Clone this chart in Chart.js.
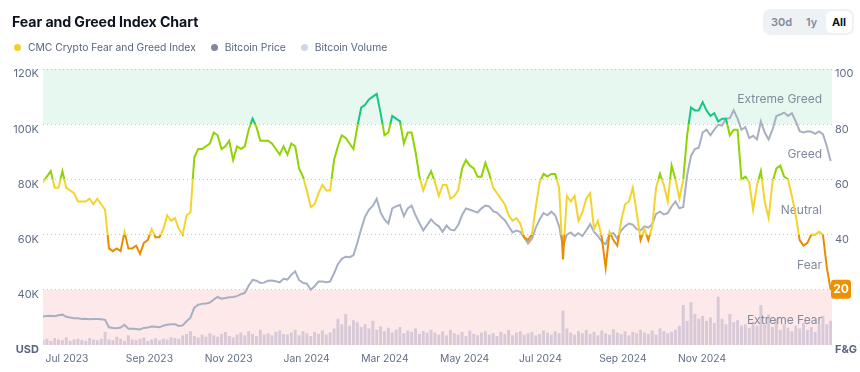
<!DOCTYPE html>
<html><head><meta charset="utf-8">
<script src="https://cdn.jsdelivr.net/npm/chart.js@4.4.1/dist/chart.umd.min.js"></script>
<style>
html,body{margin:0;padding:0;background:#fff;}
body{width:860px;height:372px;position:relative;overflow:hidden;font-family:Inter,"Noto Sans",sans-serif;}
#c{position:absolute;left:0;top:0;}
.title{position:absolute;left:12px;top:12px;font-size:14.2px;font-weight:700;color:#0d1421;line-height:20px;letter-spacing:-0.1px;z-index:2;}
.legend{position:absolute;left:14px;top:40px;font-size:10.3px;color:#58667e;display:flex;align-items:center;line-height:14px;z-index:2;}
.legend .item{display:flex;align-items:center;margin-right:15px;}
.legend .dot{width:7px;height:7px;border-radius:50%;display:inline-block;margin-right:7px;}
.range{position:absolute;left:763px;top:9px;width:91px;height:26px;background:#eff2f5;border-radius:7px;z-index:2;}
.range span{position:absolute;top:0;line-height:26px;font-size:11px;font-weight:600;color:#808a9d;}
.range .on{background:#fff;color:#0d1421;font-weight:700;border-radius:6px;top:2px;height:22px;line-height:22px;width:26px;text-align:center;}
</style></head>
<body>
<canvas id="c" width="860" height="372"></canvas>
<div class="title">Fear and Greed Index Chart</div>
<div class="legend">
  <div class="item"><span class="dot" style="background:#f3cf2a"></span>CMC Crypto Fear and Greed Index</div>
  <div class="item"><span class="dot" style="background:#808a9d"></span>Bitcoin Price</div>
  <div class="item"><span class="dot" style="background:#cfd6e4"></span>Bitcoin Volume</div>
</div>
<div class="range"><span style="left:8px">30d</span><span style="left:43px">1y</span><span class="on" style="left:63px">All</span></div>
<script>
// Data: one sample every 3 days, starting 2023-06-29 (day 0)
const startDate = '2023-06-29';
const stepDays = 3;
const fngIndex = [
59,61,63,57,57,63,57,56,55,52,
52,52,53,51,53,51,49,35,34,35,
34,41,35,35,36,33,37,38,42,39,
39,42,47,45,46,42,40,47,48,68,
71,71,72,73,77,76,71,72,74,67,
72,71,72,78,82,79,74,74,74,73,
71,69,72,69,73,72,64,61,56,50,
51,55,58,56,56,67,72,76,75,73,
71,79,86,87,89,90,91,84,76,77,
83,82,81,73,77,77,70,61,56,60,
63,59,54,58,58,53,54,56,64,67,
65,64,61,61,66,62,57,55,53,51,
47,45,46,44,39,38,40,50,59,62,
61,62,62,57,31,54,52,54,45,48,
53,55,42,45,39,28,41,38,36,45,
51,52,57,48,38,42,38,43,57,62,
58,52,65,60,53,60,76,86,85,85,
88,85,83,84,81,82,82,76,78,78,
60,61,59,49,58,63,52,46,59,64,
65,61,60,54,47,38,36,37,40,40,
41,40,28,20];
const btcPrice = [
30300,30500,30600,30400,30800,31000,30200,30000,29700,29700,
29400,29500,29300,29400,29400,29300,29100,26400,26200,26100,
26300,27300,25900,25900,25800,25600,26200,26300,26700,26600,
26400,27000,27300,27500,27500,26900,27100,28600,29900,33500,
34600,34900,35000,35400,36500,37400,36800,37000,37300,37400,
37700,38400,38900,41500,43600,43300,42500,42600,43300,43400,
43100,42700,44000,43700,45500,46700,43500,42500,42200,40000,
41300,43000,43000,42700,43000,46000,49300,51200,52000,51800,
52500,57000,62000,66500,69000,70500,73000,68000,65500,64000,
69500,70200,70800,66700,69500,70500,67000,64200,61500,63500,
65500,64000,63000,61000,63300,61800,61500,63500,67000,69500,
69000,68500,68000,69500,70500,70200,68500,68000,66500,65200,
63000,60800,61500,61000,59000,56800,58500,62500,65500,67800,
67000,68300,67000,63000,55800,60000,60800,59500,60500,59500,
61500,63800,61000,59500,57500,56500,60200,60500,58500,61500,
63000,64000,63600,62000,61500,63000,62500,63800,67500,68300,
67300,67800,70200,72000,69500,70000,81500,88500,91000,91500,
97000,98000,96000,98000,99800,99500,102000,102200,105000,102000,
98000,99000,95000,95800,94500,101000,97000,94500,98000,103000,
103500,104200,103000,104000,101000,97500,97000,97400,97300,96500,
97400,96400,92000,86700];
// Bitcoin volume, billions USD
const btcVolume = [
7,9,6,10,8,7,11,6,8,9,7,6,10,8,7,9,
19,8,7,12,9,6,14,8,7,9,11,6,8,10,7,9,8,11,
10,9,14,16,20,13,11,15,12,17,14,12,16,19,13,11,15,
18,14,20,16,13,22,15,17,14,19,21,16,15,18,22,14,20,17,13,19,16,21,15,18,
24,38,30,45,28,36,33,26,30,24,35,22,27,20,25,18,22,26,17,21,19,24,16,20,18,22,
18,15,20,14,22,17,15,19,13,21,16,14,18,20,15,17,13,19,16,22,14,18,20,15,17,19,14,16,21,18,15,20,17,
50,
24,18,15,20,17,22,16,19,14,21,17,15,23,18,16,20,14,19,17,22,18,16,21,15,24,20,17,19,22,
28,58,35,62,45,38,42,
35,40,32,70,38,30,45,33,36,28,
30,25,34,28,58,30,44,26,38,22,30,25,20,28,24,32,22,26,19,30,42,30,35];
// Axis labels (days since startDate)
const tickDays = [2,64,125,186,246,307,368,430,491];
const tickLabels = ['Jul 2023','Sep 2023','Nov 2023','Jan 2024','Mar 2024','May 2024','Jul 2024','Sep 2024','Nov 2024'];
const zoneNames = ['Extreme Fear','Fear','Neutral','Greed','Extreme Greed'];
const zoneBounds = [0,20,40,60,80,100];
const zoneColors = ['#ea3943','#ea8c00','#f3d42f','#8fd400','#16c784'];

const FONT = 'Inter, "Noto Sans", sans-serif';
const xy = arr => arr.map((v,i)=>({x:i*stepDays, y:v}));

function fngGradient(c){
  const chart = c.chart, a = chart.chartArea;
  if(!a) return zoneColors[2];
  const s = chart.scales.y2;
  const top = s.getPixelForValue(100), bot = s.getPixelForValue(0);
  const g = chart.ctx.createLinearGradient(0, top, 0, bot);
  for(let k=4;k>=0;k--){
    const lo = zoneBounds[k], hi = zoneBounds[k+1];
    g.addColorStop((100-hi)/100, zoneColors[k]);
    g.addColorStop((100-lo)/100, zoneColors[k]);
  }
  return g;
}

const zonePlugin = {
  id:'zones',
  beforeDraw(chart){
    const {ctx, chartArea:a, scales:{y2}} = chart;
    ctx.save();
    const p100=y2.getPixelForValue(100), p80=y2.getPixelForValue(80), p20=y2.getPixelForValue(20), p0=y2.getPixelForValue(0);
    ctx.fillStyle='#e7f8f1'; ctx.fillRect(a.left,p100,a.right-a.left,p80-p100);
    ctx.fillStyle='#fde9e9'; ctx.fillRect(a.left,p20,a.right-a.left,p0-p20);
    ctx.restore();
  },
  beforeDatasetsDraw(chart){
    const {ctx, chartArea:a, scales:{y2}} = chart;
    ctx.save();
    ctx.font = '12px '+FONT; ctx.fillStyle='#808a9d'; ctx.textAlign='right'; ctx.textBaseline='middle';
    for(let k=0;k<5;k++){
      const mid=(zoneBounds[k]+zoneBounds[k+1])/2;
      ctx.fillText(zoneNames[k], a.right-10, y2.getPixelForValue(mid)+3);
    }
    ctx.restore();
  },
  afterDraw(chart){
    const {ctx, chartArea:a, scales:{y2}} = chart;
    const last = fngIndex[fngIndex.length-1];
    const y = y2.getPixelForValue(last);
    const x0=a.right-1, w=20, h=19, y0=y-h/2-0.5;
    ctx.save();
    ctx.fillStyle = '#ee9000';
    ctx.beginPath(); ctx.roundRect(x0,y0,w,h,3); ctx.fill();
    ctx.fillStyle='#fff'; ctx.font='bold 12px '+FONT; ctx.textAlign='center'; ctx.textBaseline='middle';
    ctx.fillText(String(last), x0+w/2, y0+h/2+0.5);
    ctx.restore();
  }
};

const tickFont = c => (c.tick && (c.tick.value===0 || c.tick.value===20000)) ? {family:FONT,size:11,weight:'bold'} : {family:FONT,size:11};
const tickColor = c => (c.tick && (c.tick.value===0 || c.tick.value===20000)) ? '#58667e' : '#616e85';

new Chart(document.getElementById('c'), {
  data:{
    datasets:[
      {type:'line', label:'CMC Crypto Fear and Greed Index', data:xy(fngIndex), yAxisID:'y2', borderColor:fngGradient, borderWidth:2, pointRadius:0, tension:0, order:0},
      {type:'line', label:'Bitcoin Price', data:xy(btcPrice), yAxisID:'y', borderColor:'#a7b0c2', borderWidth:2, pointRadius:0, tension:0, order:1},
      {type:'bar', label:'Bitcoin Volume', data:xy(btcVolume), yAxisID:'yv', backgroundColor:'rgba(150,145,185,0.36)', barPercentage:0.75, categoryPercentage:1, order:2}
    ]
  },
  options:{
    responsive:false, devicePixelRatio:1, animation:false,
    layout:{padding:{top:69,left:0,right:0,bottom:0}},
    plugins:{legend:{display:false}, tooltip:{enabled:false}},
    scales:{
      x:{type:'linear', min:0, max:610, offset:false,
         afterBuildTicks: ax => { ax.ticks = tickDays.map(v=>({value:v})); },
         afterFit: ax => { ax.height = 27; },
         grid:{display:false, drawTicks:false}, border:{display:false},
         ticks:{autoSkip:false, maxRotation:0, align:'start', padding:8, font:{family:FONT,size:10.3}, color:'#616e85',
                callback: v => { const k = tickDays.indexOf(v); return k>=0 ? tickLabels[k] : ''; }}},
      y:{position:'left', min:20000, max:120000,
         afterFit: ax => { ax.width = 43; },
         grid:{display:false, drawTicks:false}, border:{display:false},
         ticks:{stepSize:20000, padding:4, labelOffset:5, font:tickFont, color:tickColor,
                callback: v => v===20000 ? 'USD' : (v/1000)+'K'}},
      y2:{position:'right', min:0, max:100,
         afterFit: ax => { ax.width = 28; },
         grid:{drawTicks:false, lineWidth:1, color: c => c.tick && c.tick.value===0 ? 'rgba(0,0,0,0)' : '#bfc6d1'},
         border:{display:false, dash:[1,3]},
         ticks:{stepSize:20, padding:3, labelOffset:5, font:tickFont, color:tickColor,
                callback: v => v===0 ? 'F&G' : String(v)}},
      yv:{display:false, min:0, max:400}
    }
  },
  plugins:[zonePlugin]
});
</script>
</body></html>
